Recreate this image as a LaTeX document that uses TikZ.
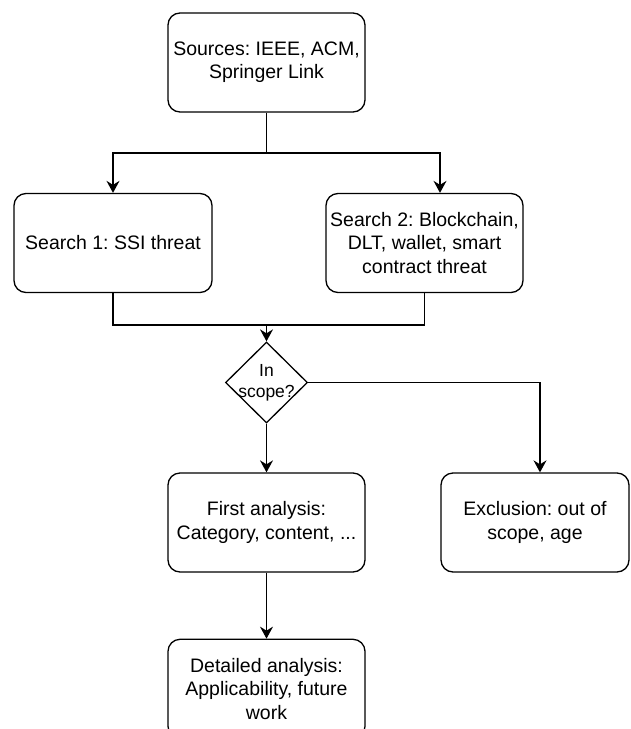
\documentclass[tikz,border=0pt]{standalone}
\usepackage{fontspec}
\setmainfont{Liberation Sans}
\usetikzlibrary{positioning, arrows.meta, shapes.geometric}
\frenchspacing

\begin{document}
\begin{tikzpicture}[
  x=1pt, y=-1pt,
  >={Stealth[length=12pt, width=13pt, inset=4pt]},
  % --- Styles ---
  pbox/.style={
    rectangle, rounded corners=12pt, draw=black, fill=white,
    line width=1.3pt, minimum height=99pt, minimum width=#1,
    align=center, inner sep=2pt,
    font=\fontsize{19.5}{23.3}\selectfont},
  pbox/.default=197pt,
  decide/.style={
    diamond, draw=black, fill=white, line width=1.3pt, aspect=1,
    minimum width=82pt, minimum height=81pt, inner sep=0pt},
  flow/.style={->, line width=1.3pt, black},
  link/.style={line width=1.3pt, black},
]
\useasboundingbox (0,0) rectangle (630,729);

% === NODES ===
% 1. Sources
\node[pbox] (src) at (266.5,62.5) {Sources: IEEE, ACM,\\Springer Link};
% 2. Searches
\node[pbox=198pt] (s1) at (113,243) {Search 1: SSI threat};
\node[pbox] (s2) at (424.5,243) {Search 2: Blockchain,\\DLT, wallet, smart\\contract threat};
% 3. Scope decision
\node[decide, label={[align=center, font=\fontsize{17.5}{21}\selectfont]center:In\\scope?}]
  (scope) at (266.5,382.5) {};
% 4. Analysis and exclusion
\node[pbox] (fa) at (266.5,522.5) {First analysis:\\Category, content, ...};
\node[pbox=188pt] (ex) at (535,522.5) {Exclusion: out of\\scope, age};
\node[pbox, below=66pt of fa] (det) {Detailed analysis:\\Applicability, future\\work};

% === ARROWS ===
% Split to both searches
\coordinate (split) at (src.south |- 0,153);
\draw[link] (src.south) -- (split);
\draw[flow] (split) -| (s1.north);
\draw[flow] (split) -| ([xshift=15.5pt]s2.north);
% Merge into decision
\coordinate (merge) at (scope.north |- 0,325);
\draw[link] (s1.south) |- (merge);
\draw[link] (s2.south) |- (merge);
\draw[flow] (merge) -- (scope.north);
% Decision outcomes
\draw[flow] (scope.south) -- (fa.north);
\draw[flow] (scope.east) -| ([xshift=5pt]ex.north);
\draw[flow] (fa.south) -- (det.north);
\end{tikzpicture}
\end{document}
